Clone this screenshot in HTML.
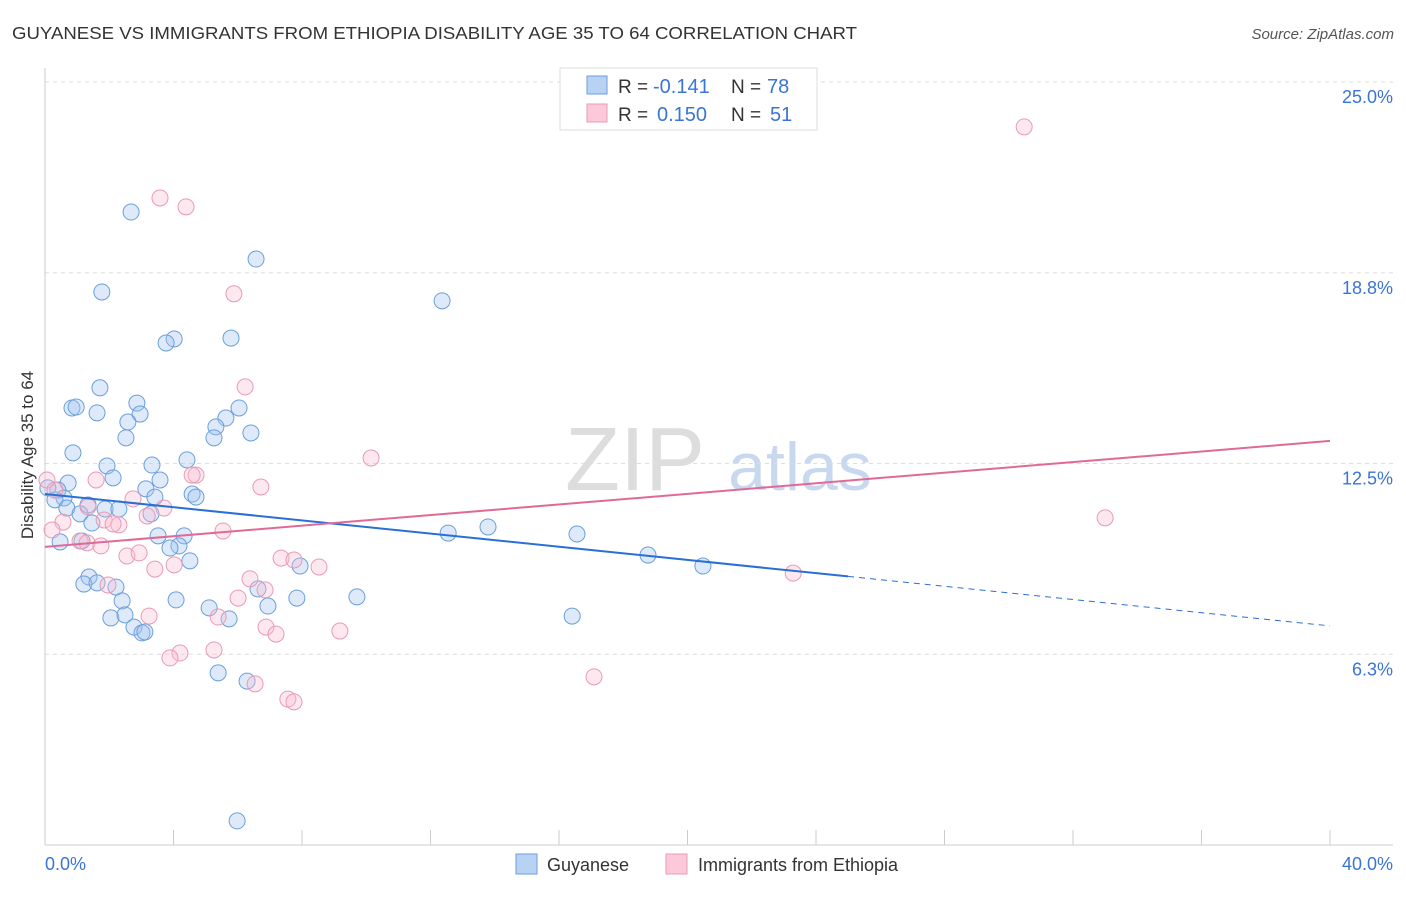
<!DOCTYPE html>
<html><head><meta charset="utf-8"><style>
body{margin:0;background:#fff;font-family:"Liberation Sans",sans-serif}
svg text{font-family:"Liberation Sans",sans-serif}
</style></head><body>
<svg id="chart" width="1406" height="892">
<text x="12" y="39" font-size="17.5" fill="#333" textLength="845" lengthAdjust="spacingAndGlyphs">GUYANESE VS IMMIGRANTS FROM ETHIOPIA DISABILITY AGE 35 TO 64 CORRELATION CHART</text>
<text x="1394" y="39" font-size="15" fill="#555" font-style="italic" text-anchor="end">Source: ZipAtlas.com</text>
<text x="635" y="490" font-size="90" fill="#ddd" font-family="Liberation Serif" text-anchor="middle">ZIP</text>
<text x="800" y="490" font-size="68" fill="#c8d8ee" text-anchor="middle">atlas</text>
<g id="grid"></g><g id="axes"></g><g id="pts"></g><g id="trend"></g>
<text transform="translate(33,455) rotate(-90)" font-size="17" fill="#333" text-anchor="middle">Disability Age 35 to 64</text>
<g>
<rect x="560" y="68" width="257" height="62" fill="#fff" stroke="#ddd"/>
<rect x="587" y="76" width="20" height="18" fill="#b8d2f4" stroke="#6a9fdb"/>
<rect x="587" y="104" width="20" height="18" fill="#fbc9da" stroke="#e89ab5"/>
<text x="618" y="93" font-size="19" fill="#333">R =</text>
<text x="653" y="93" font-size="20" fill="#3a75d6">-0.141</text>
<text x="731" y="93" font-size="19" fill="#333">N =</text>
<text x="767" y="93" font-size="20" fill="#3a75d6">78</text>
<text x="618" y="121" font-size="19" fill="#333">R =</text>
<text x="657" y="121" font-size="20" fill="#3a75d6">0.150</text>
<text x="731" y="121" font-size="19" fill="#333">N =</text>
<text x="770" y="121" font-size="20" fill="#3a75d6">51</text>
</g>
<g>
<rect x="516" y="854" width="21" height="20" fill="#b8d2f4" stroke="#6a9fdb"/>
<text x="547" y="871" font-size="18" fill="#333">Guyanese</text>
<rect x="666" y="854" width="21" height="20" fill="#fbc9da" stroke="#e89ab5"/>
<text x="698" y="871" font-size="18" fill="#333">Immigrants from Ethiopia</text>
</g>
</svg>
<script>
const yTicks=[25,18.75,12.5,6.25];
const yTickLabels=["25.0%","18.8%","12.5%","6.3%"];
const xTickLabels=["0.0%","40.0%"];
const blueX=[2.68,6.57,1.77,12.36,4.02,3.77,5.79,1.71,2.86,0.84,0.97,1.62,2.96,6.04,2.58,5.63,5.32,2.52,5.26,6.41,0.87,1.93,3.33,4.42,2.12,3.58,0.72,3.14,0.40,0.09,4.58,4.70,3.42,0.59,0.31,1.34,1.87,2.30,0.68,1.09,1.46,3.30,12.55,13.79,16.56,3.52,4.33,0.47,1.15,4.17,3.89,18.77,4.51,7.94,20.48,1.37,1.21,1.62,2.21,6.63,4.08,2.40,7.84,9.71,5.11,6.94,16.41,2.05,2.49,5.73,2.77,3.02,3.11,5.39,6.29,5.98];
const blueY=[20.74,19.20,18.12,17.83,16.58,16.45,16.61,14.98,14.48,14.32,14.35,14.16,14.12,14.32,13.86,13.99,13.70,13.34,13.34,13.50,12.85,12.42,12.45,12.62,12.03,11.96,11.86,11.67,11.63,11.70,11.50,11.40,11.40,11.37,11.31,11.14,11.01,11.01,11.04,10.85,10.55,10.85,10.22,10.42,10.19,10.13,10.13,9.93,9.96,9.80,9.73,9.50,9.31,9.14,9.14,8.78,8.55,8.59,8.45,8.39,8.03,8.00,8.09,8.13,7.77,7.83,7.50,7.44,7.54,7.41,7.14,6.95,6.98,5.64,5.37,0.79];
const pinkX=[30.48,3.58,4.39,5.88,6.23,10.15,4.70,4.58,6.72,1.59,0.06,0.31,2.74,1.34,3.70,3.18,1.84,2.30,2.12,0.56,0.22,5.54,1.09,1.31,1.74,33.00,2.55,2.93,7.35,7.75,8.53,3.42,4.02,6.38,1.96,6.85,6.01,3.24,5.39,6.88,7.19,9.18,5.26,4.20,3.89,6.54,17.09,7.56,7.75,23.29];
const pinkY=[23.53,21.20,20.91,18.06,15.01,12.68,12.12,12.12,11.73,11.96,11.96,11.63,11.34,11.08,11.04,10.78,10.65,10.49,10.52,10.58,10.32,10.29,9.96,9.90,9.80,10.72,9.47,9.57,9.40,9.34,9.11,9.04,9.18,8.72,8.52,8.36,8.09,7.50,7.47,7.14,6.91,7.01,6.39,6.29,6.13,5.28,5.51,4.78,4.69,8.91];
const blueTrend=[11.50,7.18];
const blueSolidEnd=25.0;
const pinkTrend=[9.77,13.24];
const X=v=>45+v/40*1285, Y=v=>845-v/25*763;
const NS="http://www.w3.org/2000/svg";
function mk(p,t,a){const e=document.createElementNS(NS,t);for(const k in a)e.setAttribute(k,a[k]);p.appendChild(e);return e;}
const grid=document.getElementById('grid'),axes=document.getElementById('axes'),pts=document.getElementById('pts'),tr=document.getElementById('trend');
yTicks.forEach((t,i)=>{
 const l=mk(grid,'line',{x1:45,x2:1393,y1:Y(t),y2:Y(t),stroke:'#ddd','stroke-dasharray':'4,4'});
 
 
 const tx=mk(grid,'text',{x:1393,y:Y(t)+21,'font-size':18,fill:'#3a75d6','text-anchor':'end'});
 tx.textContent=yTickLabels[i];
 
 
});
mk(axes,'line',{x1:45,x2:45,y1:68,y2:845,stroke:'#ccc'});
mk(axes,'line',{x1:45,x2:1393,y1:845,y2:845,stroke:'#ccc'});
for(let i=0;i<=10;i++){const t=mk(axes,'line',{x1:X(i*4),x2:X(i*4),y1:830,y2:845,stroke:'#ccc'});
 
 }
[[45,'start'],[1393,'end']].forEach((p,i)=>{const t=mk(axes,'text',{x:p[0],y:870,'font-size':18,fill:'#3a75d6','text-anchor':p[1]});t.textContent=xTickLabels[i];
 
 });
function dots(xs,ys,fill,stroke,name){xs.forEach((x,i)=>{const c=mk(pts,'circle',{cx:X(x),cy:Y(ys[i]),r:8,fill:fill,stroke:stroke,'stroke-width':1});
 
 });}
dots(blueX,blueY,'rgba(160,195,240,0.35)','#6a9fdb','point-guyanese');
dots(pinkX,pinkY,'rgba(248,190,210,0.35)','#e89ab5','point-ethiopia');
const by=x=>blueTrend[0]+(blueTrend[1]-blueTrend[0])*x/40;
const b1=mk(tr,'line',{x1:X(0),y1:Y(by(0)),x2:X(blueSolidEnd),y2:Y(by(blueSolidEnd)),stroke:'#2a6fd6','stroke-width':2});


const b2=mk(tr,'line',{x1:X(blueSolidEnd),y1:Y(by(blueSolidEnd)),x2:X(40),y2:Y(by(40)),stroke:'#2a6fd6','stroke-width':1,'stroke-dasharray':'6,5'});


const p1=mk(tr,'line',{x1:X(0),y1:Y(pinkTrend[0]),x2:X(40),y2:Y(pinkTrend[1]),stroke:'#e06a97','stroke-width':2});


</script>
</body></html>
